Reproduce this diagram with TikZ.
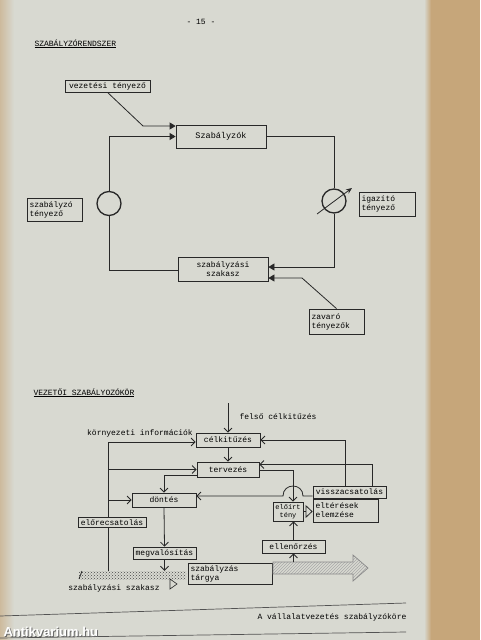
\documentclass[tikz,border=0pt]{standalone}
\usepackage{fontspec}
\setmonofont{Liberation Mono}
\setsansfont{Liberation Sans}
\usetikzlibrary{arrows.meta,patterns,calc}
\definecolor{paper}{RGB}{216,217,209}
\definecolor{edge}{RGB}{198,166,122}
\definecolor{ink}{RGB}{40,40,40}
\begin{document}
\begin{tikzpicture}[x=1pt,y=-1pt,
  font=\ttfamily\fontsize{8}{9}\selectfont,
  bx/.style={draw=ink,line width=0.8pt,fill=paper,inner sep=0pt,align=center},
  lbx/.style={draw=ink,line width=0.8pt,fill=paper,inner sep=2.5pt,align=left},
  conn/.style={draw=ink,line width=0.8pt},
  farr/.style={-{Triangle[length=6pt,width=7pt]}},
  oarr/.style={-{Straight Barb[length=4pt,width=8pt]}},
  ring/.style={circle,draw=ink,line width=1.3pt,minimum size=24pt,inner sep=0pt}]
\useasboundingbox (0,0) rectangle (480,640);
\fill[paper] (0,0) rectangle (480,640);
\shade[left color=edge!60!paper,right color=paper] (0,0) rectangle (14,640);
\shade[left color=paper,right color=edge] (424,0) rectangle (431,640);
\fill[edge] (431,0) rectangle (480,640);

% header
\node (pg) at (201,22) {- 15 -};
\node[anchor=base west] (t1) at (31,46) {\underline{SZABÁLYZÓRENDSZER}};

% ---------- top diagram ----------
\node[bx,minimum width=85pt,minimum height=12pt] (vt) at (107.5,86) {vezetési tényező};
\node[bx,minimum width=90pt,minimum height=23pt,font=\ttfamily\fontsize{8.5}{9}\selectfont] (szk) at (221,136.5) {Szabályzók};
\node[bx,minimum width=90pt,minimum height=24pt] (szsz) at (223,269) {szabályzási\\szakasz};
\node[lbx,text width=50pt,minimum height=25pt] (zt) at (336.5,321.5) {zavaró\\tényezők};
\node[lbx,text width=50pt,minimum height=23pt] (szt) at (54.5,209.5) {szabályzó\\tényező};
\node[lbx,text width=51pt,minimum height=24pt] (it) at (387,204) {igazító\\tényező};
\node[ring] (c1) at (109,203.5) {};
\node[ring] (c2) at (334,201) {};
\coordinate (b1) at (143,126);
\coordinate (b2) at (302,278);

\draw[conn,farr] (vt.south) -- (b1) -- ([yshift=10.5pt]szk.west);
\draw[conn,farr] (c1.north) |- (szk.west);
\draw[conn] (c1.south) |- ([yshift=-1pt]szsz.west);
\draw[conn] (szk.east) -| (c2.north);
\draw[conn,farr] (c2.south) |- ([yshift=2pt]szsz.east);
\draw[conn,farr] (zt.north) -- (b2) -- ([yshift=-9pt]szsz.east);
\draw[conn,-{Stealth[length=6pt,width=5pt]}] ($(c2)+(-17,13)$) -- ($(c2)+(18,-13)$);

% ---------- bottom diagram ----------
\node[anchor=base west] (t2) at (30,395) {\underline{VEZETŐI SZABÁLYOZÓKÖR}};
\node (fc) at (278,417) {felső célkitűzés};
\node (ki) at (140,433) {környezeti információk};

\node[bx,minimum width=64pt,minimum height=14pt] (ck) at (228,440) {célkitűzés};
\node[bx,minimum width=62pt,minimum height=15pt] (tv) at (228,469.5) {tervezés};
\node[bx,minimum width=64pt,minimum height=14pt] (dt) at (164,500) {döntés};
\node[bx,minimum width=63pt,minimum height=12pt] (mv) at (164.5,553) {megvalósítás};
\node[bx,minimum width=73pt,minimum height=12pt] (vs) at (349.5,492) {visszacsatolás};
\node[lbx,text width=60pt,minimum height=23pt] (ee) at (345.5,510.5) {eltérések\\elemzése};
\node[bx,minimum width=30pt,minimum height=19pt,font=\ttfamily\fontsize{7}{8}\selectfont] (et) at (288,511.5) {előírt\\tény};
\node[bx,minimum width=63pt,minimum height=13pt] (el) at (293.5,546.5) {ellenőrzés};
\node[lbx,text width=79pt,minimum height=20pt] (st) at (230,574) {szabályzás\\tárgya};
\node[minimum width=107pt,minimum height=8pt,inner sep=0pt,pattern=crosshatch dots,pattern color=ink!85] (bar) at (132.5,575) {};
\draw[ink,line width=0.8pt] (79,579) -- (82,571);
\draw[ink!55,line width=0.7pt,pattern=north east lines,pattern color=ink!40]
  (273,562) -- (353,562) -- (353,555) -- (368,568) -- (353,581) -- (353,574) -- (273,574) -- cycle;
\node (ssz) at (114,588) {szabályzási szakasz};
\draw[ink,line width=0.6pt] (170,579) -- (177,584) -- (170,589) -- cycle;

\coordinate (top) at (228,403);
\coordinate (lb) at (108,571);
\coordinate (lt) at (108,442);
\coordinate (bh) at (293.5,562);
\coordinate (h1) at (303,496);
\coordinate (h2) at (283,496);

\draw[conn,oarr] (top) -- (ck.north);
\draw[conn,oarr] (ck.south) -- (tv.north);
\draw[conn,oarr] (lb) -- (lt) -- ([yshift=-2pt]ck.west);
\draw[conn,oarr] (lb |- tv.west) -- (tv.west);
\draw[conn,oarr] (lb |- dt.west) -- (dt.west);
\draw[conn,oarr] ([xshift=-4.5pt]vs.north) |- (ck.east);
\draw[conn,oarr] ([xshift=22.5pt]vs.north) |- ([yshift=5pt]tv.east);
\draw[conn,oarr] ([yshift=-6pt]tv.west) -| (dt.north);
\draw[conn,oarr] ([yshift=-1pt]tv.east) -| ([xshift=5pt]et.north);
\draw[conn,oarr] ([yshift=-4pt]vs.west) -- (h1) .. controls (303,482.7) and (283,482.7) .. (h2) -- ([yshift=4pt]dt.east);
\draw[conn,-{Triangle[open,length=7pt,width=13pt]}] (et.east) -- (et.east -| ee.west);
\draw[conn,oarr] (el.north) -- (el.north |- et.south);
\draw[conn,oarr] (bh) -- (el.south);
\draw[conn,oarr] (dt.south) -- (mv.north);
\draw[conn,oarr] (mv.south) -- (mv.south |- bar.north);
\node[bx,minimum width=68pt,minimum height=10pt] (ec) at (112,522.5) {előrecsatolás};

% footer
\draw[ink!80,line width=0.7pt] (0,616) -- (406,603);
\draw[ink!80,line width=0.7pt] (0,638) -- (406,632);
\node (ft) at (332,617) {A vállalatvezetés szabályzóköre};
\node[anchor=south west,font=\sffamily\bfseries\fontsize{13}{13}\selectfont,text=ink!70] at (1,641) {Antikvarium.hu};
\node[anchor=south west,font=\sffamily\bfseries\fontsize{13}{13}\selectfont,text=white] (wm) at (0,640) {Antikvarium.hu};
\end{tikzpicture}
\end{document}
